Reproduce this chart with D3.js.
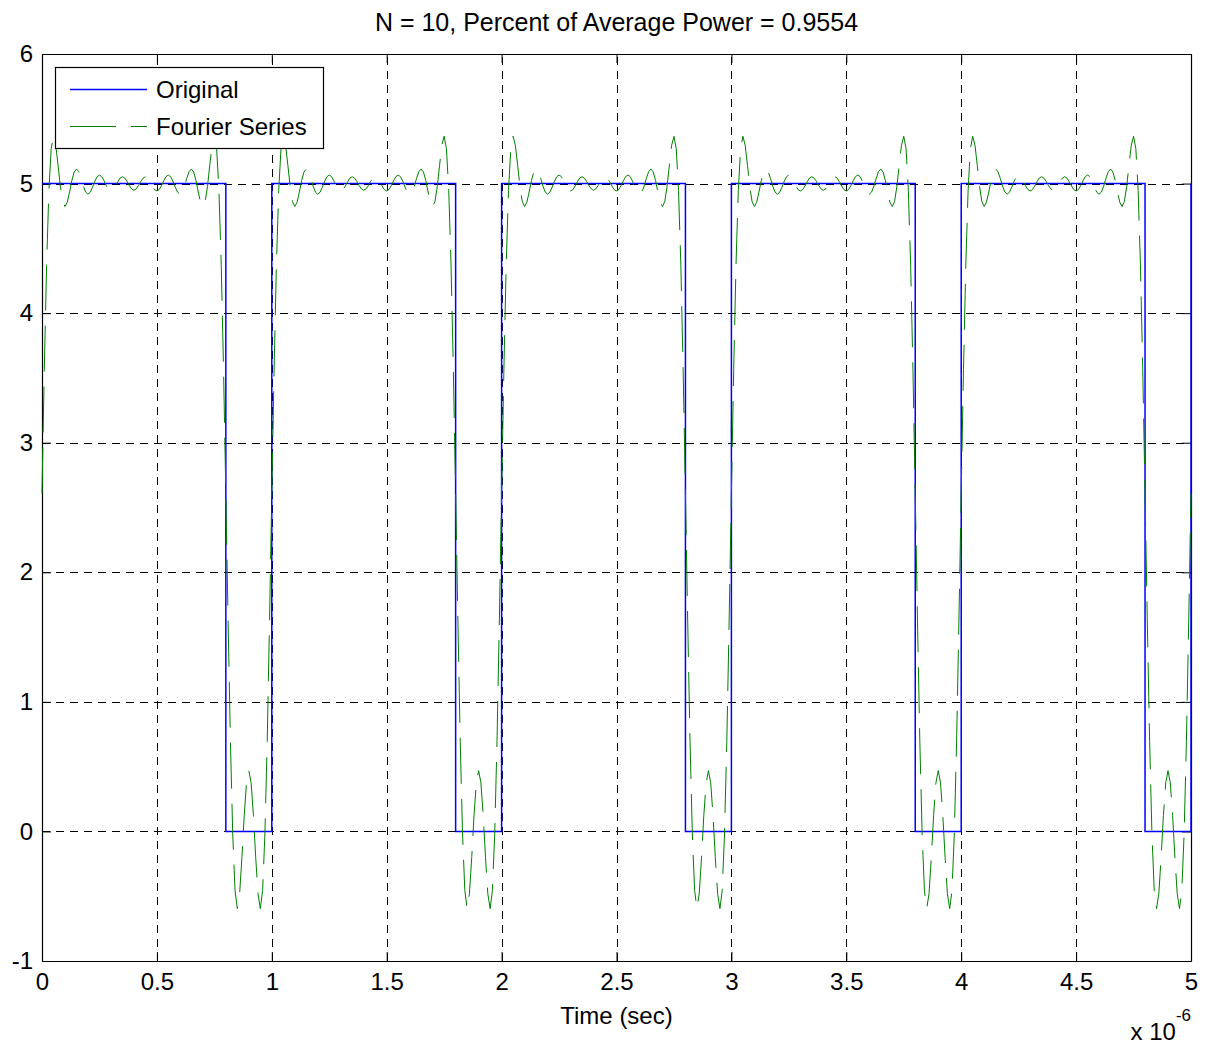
<!DOCTYPE html>
<html>
<head>
<meta charset="utf-8">
<script src="https://cdn.jsdelivr.net/npm/d3@7"></script>
<style>
body { margin: 0; background: #fff; }
svg text { font-family: "Liberation Sans", Arial, Helvetica, sans-serif; fill: #000; }
</style>
</head>
<body>
<svg width="1209" height="1047"></svg>
<script>
const chartTitle = "N = 10, Percent of Average Power = 0.9554";
const xLabel = "Time (sec)";
const xTicks = [0, 0.5e-6, 1e-6, 1.5e-6, 2e-6, 2.5e-6, 3e-6, 3.5e-6, 4e-6, 4.5e-6, 5e-6];
const xTickLabels = ["0", "0.5", "1", "1.5", "2", "2.5", "3", "3.5", "4", "4.5", "5"];
const yTicks = [-1, 0, 1, 2, 3, 4, 5, 6];
const yTickLabels = ["-1", "0", "1", "2", "3", "4", "5", "6"];
const seriesNames = ["Original", "Fourier Series"];

// original pulse train (break points)
const originalTime = [0, 0.8e-6, 0.8e-6, 1e-6, 1e-6, 1.8e-6, 1.8e-6, 2e-6, 2e-6, 2.8e-6, 2.8e-6,
    3e-6, 3e-6, 3.8e-6, 3.8e-6, 4e-6, 4e-6, 4.8e-6, 4.8e-6, 5e-6, 5e-6];
const originalValue = [5, 5, 0, 0, 5, 5, 0, 0, 5, 5, 0, 0, 5, 5, 0, 0, 5, 5, 0, 0, 5];

const samplePeriod = 1e-8;
const periodCount = 5;
const fourierPeriod = [
    2.608, 3.566, 4.370, 4.946, 5.269, 5.365, 5.295, 5.140, 4.976, 4.861,
    4.823, 4.856, 4.935, 5.024, 5.089, 5.112, 5.092, 5.040, 4.980, 4.934,
    4.918, 4.933, 4.972, 5.018, 5.053, 5.066, 5.054, 5.022, 4.984, 4.954,
    4.943, 4.953, 4.981, 5.015, 5.043, 5.053, 5.042, 5.017, 4.984, 4.959,
    4.948, 4.959, 4.984, 5.017, 5.042, 5.053, 5.043, 5.015, 4.981, 4.953,
    4.943, 4.954, 4.984, 5.022, 5.054, 5.066, 5.053, 5.018, 4.972, 4.933,
    4.918, 4.934, 4.980, 5.040, 5.092, 5.112, 5.089, 5.024, 4.935, 4.856,
    4.823, 4.861, 4.976, 5.140, 5.295, 5.365, 5.269, 4.946, 4.370, 3.566,
    2.608, 1.608, 0.694, -0.020, -0.456, -0.596, -0.480, -0.201, 0.124, 0.375,
    0.469, 0.375, 0.124, -0.201, -0.480, -0.596, -0.456, -0.020, 0.694, 1.608
];

const blue = "#0000ff";
const green = "#008000";
const seriesDash = "46,15";

const svg = d3.select("svg");
const plotLeft = 42, plotRight = 1191, plotTop = 54, plotBottom = 961;

const x = d3.scaleLinear().domain([0, 5e-6]).range([plotLeft, plotRight]);
const y = d3.scaleLinear().domain([-1, 6]).range([plotBottom, plotTop]);

// build the data points
let original = originalTime.map(function (t, i) {
    return {t: t, v: originalValue[i]};
});
let fourier = [];
for (let p = 0; p < periodCount; p++) {
    fourierPeriod.forEach(function (v, k) {
        fourier.push({t: (p * fourierPeriod.length + k) * samplePeriod, v: v});
    });
}
fourier.push({t: periodCount * fourierPeriod.length * samplePeriod, v: fourierPeriod[0]});

//grid lines
const grid = svg.append("g")
    .attr("stroke", "#000")
    .attr("stroke-width", 1)
    .attr("stroke-dasharray", "8,6")
    .attr("shape-rendering", "crispEdges");

grid.selectAll(".vgrid")
    .data(xTicks.slice(1, -1))
    .enter().append("line")
    .attr("x1", d => Math.round(x(d)) + 0.5)
    .attr("x2", d => Math.round(x(d)) + 0.5)
    .attr("y1", plotBottom)
    .attr("y2", plotTop);

grid.selectAll(".hgrid")
    .data(yTicks.slice(1, -1))
    .enter().append("line")
    .attr("y1", d => Math.round(y(d)) + 0.5)
    .attr("y2", d => Math.round(y(d)) + 0.5)
    .attr("x1", plotLeft)
    .attr("x2", plotRight);

//axes, ticks point inward
const xAxis = d3.axisBottom(x)
    .tickValues(xTicks)
    .tickFormat((d, i) => xTickLabels[i])
    .tickSizeInner(-9)
    .tickSizeOuter(0)
    .tickPadding(12);
const yAxis = d3.axisLeft(y)
    .tickValues(yTicks)
    .tickFormat((d, i) => yTickLabels[i])
    .tickSizeInner(-9)
    .tickSizeOuter(0)
    .tickPadding(9);

function styleAxis(g) {
    g.select(".domain").attr("stroke", "#000").attr("stroke-width", 1.2);
    g.selectAll(".tick line").attr("stroke", "#000");
    g.selectAll("text").attr("font-size", 24).attr("fill", "#000");
    g.attr("font-family", null);
}

svg.append("g")
    .attr("transform", "translate(0," + plotBottom + ")")
    .call(xAxis)
    .call(styleAxis);
svg.append("g")
    .attr("transform", "translate(" + plotLeft + ",0)")
    .call(yAxis)
    .call(styleAxis);
svg.append("g")
    .attr("transform", "translate(0," + plotTop + ")")
    .call(d3.axisTop(x).tickValues(xTicks).tickFormat("").tickSizeInner(-9).tickSizeOuter(0))
    .call(styleAxis);
svg.append("g")
    .attr("transform", "translate(" + plotRight + ",0)")
    .call(d3.axisRight(y).tickValues(yTicks).tickFormat("").tickSizeInner(-9).tickSizeOuter(0))
    .call(styleAxis);

//draw the series
const line = d3.line()
    .x(d => x(d.t))
    .y(d => y(d.v));

svg.append("path")
    .datum(original)
    .attr("d", line)
    .attr("fill", "none")
    .attr("stroke", blue)
    .attr("stroke-width", 1.5);

svg.append("path")
    .datum(fourier)
    .attr("d", line)
    .attr("fill", "none")
    .attr("stroke", green)
    .attr("stroke-width", 1)
    .attr("stroke-dasharray", seriesDash);

//title and labels
svg.append("text")
    .attr("x", (plotLeft + plotRight) / 2)
    .attr("y", 31)
    .attr("text-anchor", "middle")
    .attr("font-size", 25)
    .text(chartTitle);

svg.append("text")
    .attr("x", (plotLeft + plotRight) / 2)
    .attr("y", 1024)
    .attr("text-anchor", "middle")
    .attr("font-size", 24)
    .text(xLabel);

const exponent = svg.append("text")
    .attr("x", plotRight)
    .attr("y", 1040)
    .attr("text-anchor", "end")
    .attr("font-size", 24);
exponent.append("tspan").text("x 10");
exponent.append("tspan")
    .attr("dy", -19)
    .attr("font-size", 17)
    .text("-6");

//legend
const legend = svg.append("g");
legend.append("rect")
    .attr("x", 55.5)
    .attr("y", 67.5)
    .attr("width", 268)
    .attr("height", 81)
    .attr("fill", "#fff")
    .attr("stroke", "#000")
    .attr("stroke-width", 1.2);

const legendRows = legend.selectAll(".row")
    .data(seriesNames)
    .enter().append("g")
    .attr("transform", (d, i) => "translate(0," + (89 + i * 37) + ")");

legendRows.append("line")
    .attr("x1", 70)
    .attr("x2", 147)
    .attr("y1", 0.5)
    .attr("y2", 0.5)
    .attr("stroke", d => d === seriesNames[0] ? blue : green)
    .attr("stroke-width", d => d === seriesNames[0] ? 1.5 : 1)
    .attr("stroke-dasharray", d => d === seriesNames[0] ? null : seriesDash);

legendRows.append("text")
    .attr("x", 156)
    .attr("y", 9)
    .attr("font-size", 24)
    .text(d => d);
</script>
</body>
</html>
